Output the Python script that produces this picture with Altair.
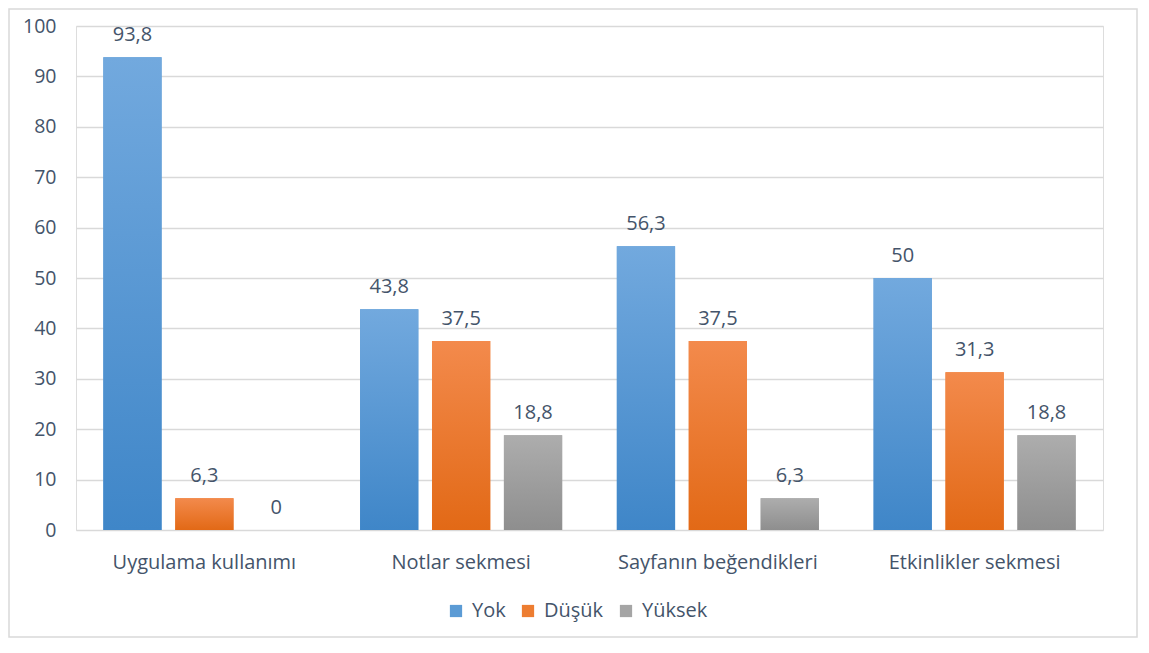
import altair as alt
import pandas as pd

categories = ["Uygulama kullanımı", "Notlar sekmesi", "Sayfanın beğendikleri", "Etkinlikler sekmesi"]
series = ["Yok", "Düşük", "Yüksek"]
yok = [93.8, 43.8, 56.3, 50]
dusuk = [6.3, 37.5, 37.5, 31.3]
yuksek = [0, 18.8, 6.3, 18.8]
y_ticks = [0, 10, 20, 30, 40, 50, 60, 70, 80, 90, 100]

legend_colors = ["#5b9bd5", "#ed7d31", "#a5a5a5"]
grad_stops = {
    "Yok": ("#72a9de", "#3f86c8"),
    "Düşük": ("#f38a4c", "#e26916"),
    "Yüksek": ("#adadad", "#8e8e8e"),
}

rows = []
for s, vals in zip(series, [yok, dusuk, yuksek]):
    for c, v in zip(categories, vals):
        rows.append({"cat": c, "series": s, "value": v,
                     "label": f"{v:g}".replace(".", ",")})
df = pd.DataFrame(rows)

TXT = "#44546a"
FONT = "Open Sans"
FS = 20
W, H = 1027, 504
PL, PT = 68, 18
TOTAL_W, TOTAL_H = 1130, 630

x_enc = alt.X("cat:N", sort=categories, scale=alt.Scale(paddingInner=0, paddingOuter=0),
              axis=alt.Axis(title=None, labelAngle=0, ticks=False, domain=False, labelLimit=0,
                            labelPadding=22, labelFontSize=FS, labelColor=TXT, labelFont=FONT))
xo_enc = alt.XOffset("series:N", sort=series,
                     scale=alt.Scale(domain=series, paddingInner=0.19, paddingOuter=0.38))
y_enc = alt.Y("value:Q", scale=alt.Scale(domain=[0, 100], nice=False),
              axis=alt.Axis(title=None, values=y_ticks, ticks=False, domain=False,
                            labelPadding=20, labelFontSize=19.5, labelColor=TXT, labelFont=FONT,
                            gridColor="#d9d9d9", gridWidth=1.5))

base = alt.Chart(df)

solid = base.mark_bar().encode(
    x=x_enc, xOffset=xo_enc, y=y_enc,
    color=alt.Color("series:N", sort=series,
                    scale=alt.Scale(domain=series, range=legend_colors),
                    legend=alt.Legend(title=None, orient="none", direction="horizontal",
                                      legendX=370, legendY=575, symbolType="square",
                                      symbolSize=150, symbolStrokeWidth=0,
                                      labelFontSize=FS, labelColor=TXT, labelFont=FONT,
                                      columnPadding=12, labelOffset=6)),
)

layers = [solid]
for s in series:
    top, bottom = grad_stops[s]
    grad = {"gradient": "linear", "x1": 0, "y1": 0, "x2": 0, "y2": 1,
            "stops": [{"offset": 0, "color": top}, {"offset": 1, "color": bottom}]}
    layers.append(
        base.transform_filter(alt.datum.series == s).mark_bar(fill=grad).encode(
            x=x_enc, xOffset=xo_enc, y=y_enc)
    )

labels = base.mark_text(baseline="alphabetic", dy=-16, fontSize=FS, color=TXT, font=FONT).encode(
    x=x_enc, xOffset=xo_enc, y=y_enc, text="label:N")
layers.append(labels)

frame = alt.Chart(pd.DataFrame({"a": [0]})).mark_rect(
    fill=None, fillOpacity=0, stroke="#d9d9d9", strokeWidth=1.5).encode(
    x=alt.value(-PL + 1), x2=alt.value(TOTAL_W - PL - 1),
    y=alt.value(-PT + 1), y2=alt.value(TOTAL_H - PT - 1))
layers.append(frame)

chart = alt.layer(*layers).properties(
    width=W, height=H,
    autosize=alt.AutoSizeParams(type="none"),
    padding={"left": PL, "top": PT, "right": TOTAL_W - PL - W, "bottom": TOTAL_H - PT - H},
).configure_view(stroke=None).configure(background="white")

chart.save("out.html", embed_options={"renderer": "svg", "actions": False})
